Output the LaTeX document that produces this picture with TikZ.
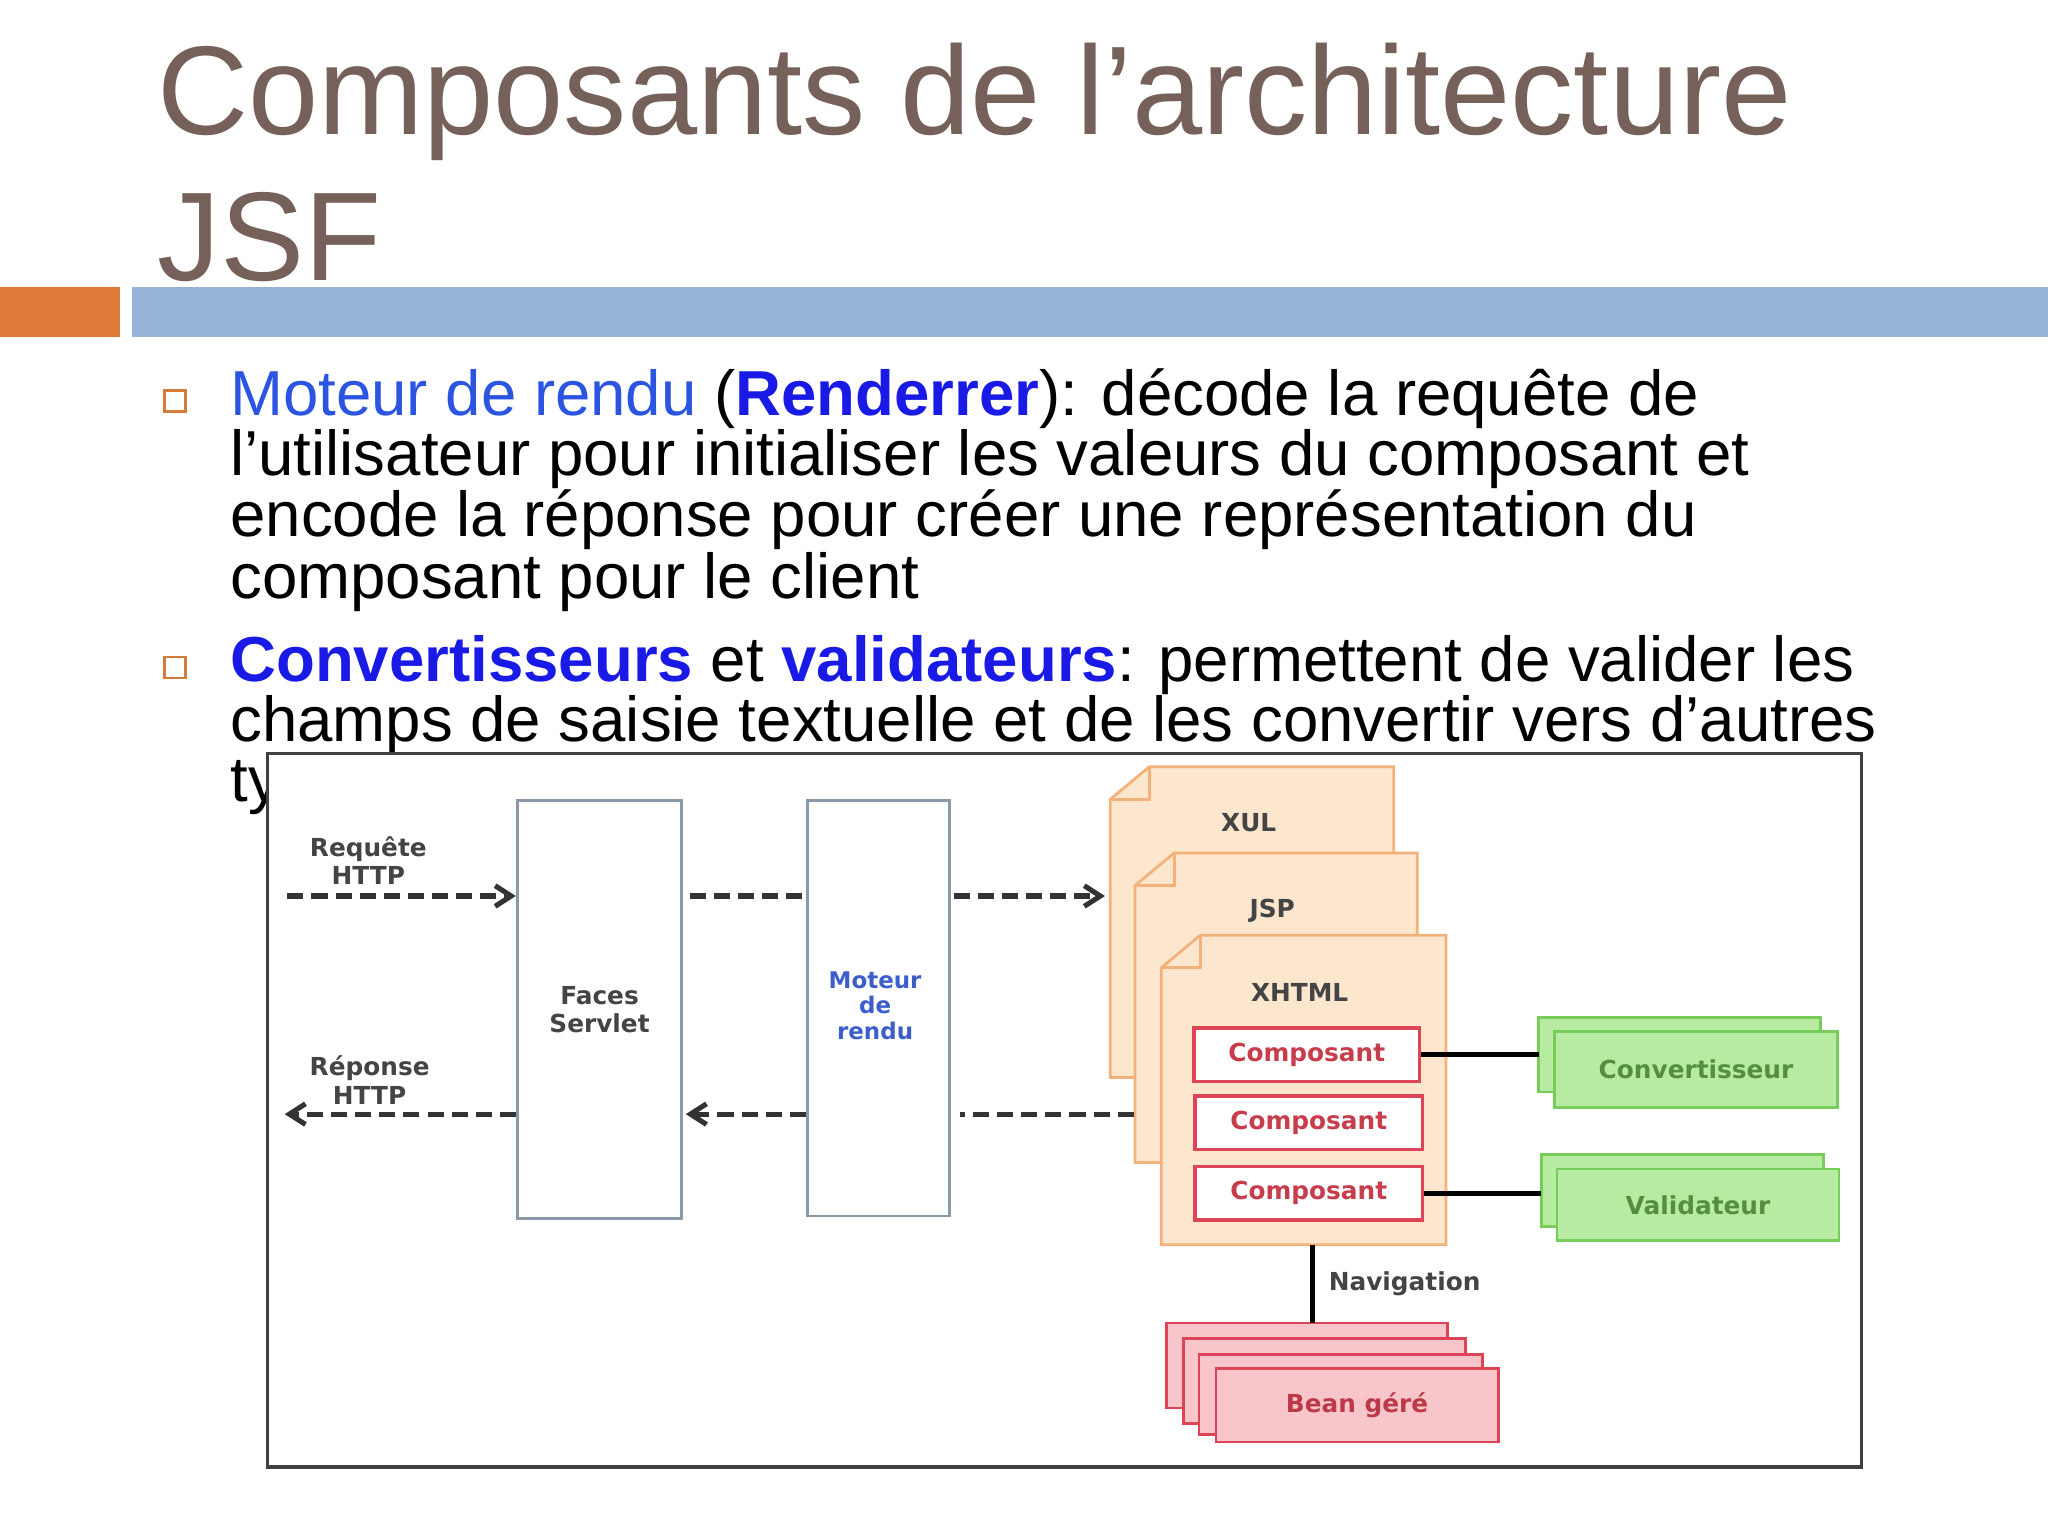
\documentclass[tikz,border=0pt]{standalone}
\usepackage{fontspec}
\setmainfont{Liberation Sans}
\newfontfamily\djfont{DejaVu Sans}
\usetikzlibrary{arrows.meta,calc}
\definecolor{titlec}{HTML}{76615A}
\definecolor{barblue}{HTML}{95B3D7}
\definecolor{barorange}{HTML}{E07B39}
\definecolor{linkblue}{HTML}{2B55E0}
\definecolor{boldblue}{HTML}{1A1AE6}
\definecolor{docfill}{HTML}{FDE6CE}
\definecolor{docdraw}{HTML}{F2B27A}
\definecolor{gfill}{HTML}{B8EBA2}
\definecolor{gdraw}{HTML}{78CC5A}
\definecolor{rfill}{HTML}{F8C5CB}
\definecolor{rdraw}{HTML}{DD4455}
\definecolor{boxdraw}{HTML}{8A9AAA}
\definecolor{dtext}{HTML}{444444}
\tikzset{
 body/.style={anchor=base west,inner sep=0,font=\fontsize{27.7}{27.7}\selectfont},
 dlab/.style={font=\djfont\bfseries\fontsize{10.8}{12.5}\selectfont,text=dtext,align=center,inner sep=0},
 dashline/.style={line width=2.2pt,dash pattern=on 7pt off 3.5pt,draw=black!80},
 comp/.style={draw=rdraw,fill=white,line width=1.5pt},
 gbox/.style={draw=gdraw,fill=gfill,line width=1.2pt},
 rbox/.style={draw=rdraw,fill=rfill,line width=1.2pt},
}
\begin{document}
\begin{tikzpicture}[x=0.02cm,y=-0.02cm]
\useasboundingbox (0,0) rectangle (1568,1176);
\fill[white] (0,0) rectangle (1568,1176);
% title
\node[anchor=base west,inner sep=0,text=titlec,font=\fontsize{55}{55}\selectfont] (t1) at (120,103) {Composants de l’architecture};
\node[anchor=base west,inner sep=0,text=titlec,font=\fontsize{55}{55}\selectfont] (t2) at (120,215) {JSF};
\fill[barorange] (0,220) rectangle (92,258);
\fill[barblue] (101,220) rectangle (1568,258);
% bullets
\draw[draw=barorange!70!brown,line width=1pt] (126,299) rectangle (142,315);
\draw[draw=barorange!70!brown,line width=1pt] (126,503) rectangle (142,519);
\node[body] (l1) at (176,318) {\textcolor{linkblue}{Moteur de rendu} (\textcolor{boldblue}{\bfseries Renderrer}): décode la requête de};
\node[body] (l2) at (176,364) {l'utilisateur pour initialiser les valeurs du composant et};
\node[body] (l3) at (176,411) {encode la réponse pour créer une représentation du};
\node[body] (l4) at (176,458) {composant pour le client};
\node[body] (m1) at (176,522) {\textcolor{boldblue}{\bfseries Convertisseurs} et \textcolor{boldblue}{\bfseries validateurs}: permettent de valider les};
\node[body] (m2) at (176,568) {champs de saisie textuelle et de les convertir vers d’autres};
\node[body] (m3) at (176,614) {types};
% diagram frame
\draw[fill=white,draw=black!75,line width=1.5pt] (205,577) rectangle (1425,1123);
% boxes
\node[draw=boxdraw,fill=white,line width=1.2pt,minimum width=126*0.02cm,minimum height=320*0.02cm,inner sep=0] (fs) at (459,773) {};
\node[dlab] at (fs) {Faces\\Servlet};
\node[draw=boxdraw,fill=white,line width=1.2pt,minimum width=109*0.02cm,minimum height=318*0.02cm,inner sep=0] (mr) at (672.5,772) {};
\node[dlab,text=linkblue!80!gray,font=\djfont\bfseries\fontsize{10}{11}\selectfont] at (670,770) {Moteur\\de\\rendu};
% docs
\foreach \x/\y/\X/\Y in {850/587/1067/825, 869/653/1085/890, 889/716/1107/953}{
 \draw[fill=docfill,draw=docdraw,line width=1.2pt] (\x+30,\y) -- (\X,\y) -- (\X,\Y) -- (\x,\Y) -- (\x,\y+25) -- cycle;
 \draw[draw=docdraw,line width=1.2pt] (\x,\y+25) -- (\x+30,\y+25) -- (\x+30,\y);
}
\node[dlab] (xul) at (956,630) {XUL};
\node[dlab] (jsp) at (974,697) {JSP};
\node[dlab] (xhtml) at (995,760) {XHTML};
\node[comp,minimum width=173*0.02cm,minimum height=41*0.02cm,inner sep=0] (c1) at (1000.5,807.5) {};
\node[comp,minimum width=174*0.02cm,minimum height=41*0.02cm,inner sep=0] (c2) at (1002,859.5) {};
\node[comp,minimum width=174*0.02cm,minimum height=41*0.02cm,inner sep=0] (c3) at (1002,913.5) {};
\foreach \n in {c1,c2,c3}{\node[dlab,text=rdraw!90!black] at (\n) {Composant};}
% green
\draw[gbox] (1178,779) rectangle (1394,836);
\node[gbox,minimum width=217*0.02cm,minimum height=58*0.02cm,inner sep=0] (cv) at (1298.5,819) {};
\node[dlab,text=gdraw!70!black] at (cv) {Convertisseur};
\draw[gbox] (1180,884) rectangle (1396,939);
\node[gbox,minimum width=216*0.02cm,minimum height=55*0.02cm,inner sep=0] (va) at (1300,922.5) {};
\node[dlab,text=gdraw!70!black] at (va) {Validateur};
\draw[line width=2.2pt] (c1.east) -- (1178,807.5);
\draw[line width=2.2pt] (c3.east) -- (1180,913.5);
% bean
\draw[rbox] (893,1013) rectangle (1108,1078);
\draw[rbox] (906,1025) rectangle (1122,1090);
\draw[rbox] (918,1037) rectangle (1135,1098);
\node[rbox,minimum width=216*0.02cm,minimum height=56*0.02cm,inner sep=0] (bean) at (1039,1076) {};
\node[dlab,text=rdraw!85!black] at (bean) {Bean géré};
\coordinate (navtop) at (1005,953);
\draw[line width=2.2pt] (navtop) -- (1005,1013);
\node[dlab,anchor=west] (nav) at (1017,983) {Navigation};
% arrows
\node[dlab] (req) at (282,659) {Requête\\HTTP};
\node[dlab] (rep) at (283,827) {Réponse\\HTTP};
\coordinate (a0) at (220,686);
\draw[dashline,-{Straight Barb[length=7pt,width=9pt]}] (a0) -- (fs.west |- a0);
\draw[dashline] ($(fs.east |- a0)+(5,0)$) -- (mr.west |- a0);
\draw[dashline,-{Straight Barb[length=7pt,width=9pt]}] ($(mr.east |- a0)+(2,0)$) -- (846,686);
\coordinate (b0) at (218,853);
\draw[dashline,-{Straight Barb[length=7pt,width=9pt]}] (fs.west |- b0) -- (b0);
\draw[dashline] (868,853) -- (735,853);
\draw[dashline,-{Straight Barb[length=7pt,width=9pt]}] (mr.west |- b0) -- ($(fs.east |- b0)+(2,0)$);
\end{tikzpicture}
\end{document}
